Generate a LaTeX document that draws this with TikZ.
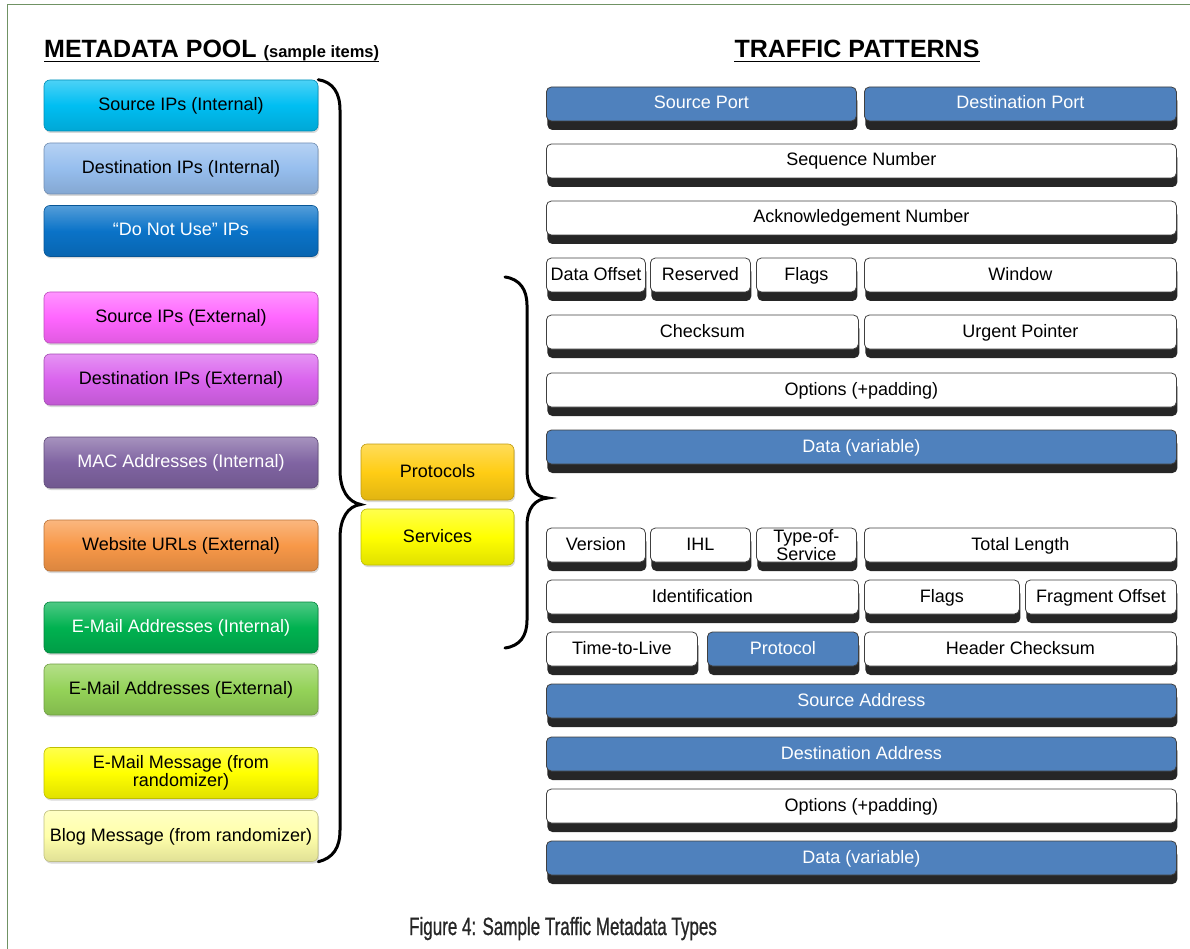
\documentclass[tikz,border=0pt]{standalone}
\usepackage{fontspec}
\setmainfont{Liberation Sans}
\newfontfamily\capfont[FakeStretch=0.68, FakeBold=0.8]{Liberation Sans}
\usetikzlibrary{calc, shadows}

\definecolor{fieldblue}{RGB}{79,129,189}
\definecolor{srcint}{RGB}{0,190,242}
\definecolor{dstint}{RGB}{150,190,238}
\definecolor{dnu}{RGB}{10,115,200}
\definecolor{srcext}{RGB}{255,102,255}
\definecolor{dstext}{RGB}{218,100,238}
\definecolor{macint}{RGB}{128,100,162}
\definecolor{urlext}{RGB}{248,152,72}
\definecolor{mailint}{RGB}{0,178,80}
\definecolor{mailext}{RGB}{148,210,88}
\definecolor{mailmsg}{RGB}{255,255,0}
\definecolor{blogmsg}{RGB}{255,255,170}
\definecolor{protoc}{RGB}{255,205,20}
\definecolor{servc}{RGB}{255,255,0}
\definecolor{framegreen}{RGB}{112,146,100}

\tikzset{
  pool/.style={draw=#1!75!black, line width=0.6, rounded corners=6,
    top color=#1!70!white, bottom color=#1!88!black, middle color=#1,
    drop shadow={shadow xshift=1pt, shadow yshift=-2pt, opacity=0.3},
    minimum width=274, minimum height=51, inner sep=2,
    text height=14, text depth=4,
    font=\fontsize{18}{15}\selectfont, align=center},
  fld/.style={draw=black!75, fill=white, line width=0.8, rounded corners=5,
    drop shadow={shadow xshift=1pt, shadow yshift=-9pt, opacity=1, fill=black!85},
    minimum width=#1, minimum height=34, inner sep=0, anchor=west,
    text height=14, text depth=4,
    font=\fontsize{18}{14}\selectfont, align=center},
  bfld/.style={fld=#1, fill=fieldblue, text=white},
  twolines/.style={text height=, text depth=},
  brace/.style={line width=3, line cap=round}
}

\begin{document}
\begin{tikzpicture}[x=1pt, y=-1pt]
      \useasboundingbox (0,0) rectangle (1190,949);

      % Рамка
      \draw[framegreen, line width=1] (7,949) -- (7,5) -- (1190,5);

      % Заголовки
      \node[anchor=base west, inner sep=0] (pooltitle) at (44,58)
        {\bfseries\fontsize{25}{25}\selectfont METADATA POOL \fontsize{16.5}{16}\selectfont(sample items)};
      \draw[line width=1.8] ([yshift=-3.5pt]pooltitle.base west) -- ([yshift=-3.5pt]pooltitle.base east);
      \node[anchor=base, inner sep=0] (traftitle) at (857,58)
        {\bfseries\fontsize{25}{25}\selectfont TRAFFIC PATTERNS};
      \draw[line width=1.8] ([yshift=-3.5pt]traftitle.base west) -- ([yshift=-3.5pt]traftitle.base east);

      % Пул метаданих
      \node[pool=srcint] (srcint) at (181,105.5) {Source IPs (Internal)};
      \node[pool=dstint] (dstint) at (181,168.5) {Destination IPs (Internal)};
      \node[pool=dnu, text=white] (dnu) at (181,231) {``Do Not Use'' IPs};
      \node[pool=srcext] (srcext) at (181,317.5) {Source IPs (External)};
      \node[pool=dstext] (dstext) at (181,379.5) {Destination IPs (External)};
      \node[pool=macint, text=white] (macint) at (181,462.5) {MAC Addresses (Internal)};
      \node[pool=urlext] (urlext) at (181,545.5) {Website URLs (External)};
      \node[pool=mailint, text=white] (mailint) at (181,627.5) {E-Mail Addresses (Internal)};
      \node[pool=mailext] (mailext) at (181,689.5) {E-Mail Addresses (External)};
      \node[pool=mailmsg, twolines] (mailmsg) at (181,773) {E-Mail Message (from\\randomizer)};
      \node[pool=blogmsg] (blogmsg) at (181,836) {Blog Message (from randomizer)};

      % Протоколи та сервіси
      \node[pool=protoc, minimum width=153, minimum height=56] (proto) at (437.5,472) {Protocols};
      \node[pool=servc, minimum width=153, minimum height=56] (serv) at (437.5,537) {Services};

      % Ліва дужка
      \coordinate (lbtip) at ($(proto.south west)!0.5!(serv.north west)$);
      \draw[brace] (srcint.north east) .. controls (333,82) and (340,93) .. (340,110)
        -- (340,470) .. controls (340,490) and (348,502) .. (lbtip)
        .. controls (348,506) and (340,518) .. (340,538)
        -- (340,830) .. controls (340,848) and (333,858) .. (blogmsg.south east);

      % Права дужка
      \coordinate (rbtip) at (548,498);
      \draw[brace] (505,277) .. controls (520,279) and (527,290) .. (527,305)
        -- (527,470) .. controls (527,488) and (535,497) .. (rbtip)
        .. controls (535,499) and (527,508) .. (527,526)
        -- (527,620) .. controls (527,636) and (520,646) .. (505,648);

      % Заголовок TCP
      \node[bfld=310] (sport) at (546,104) {Source Port};
      \node[bfld=312] (dport) at (864,104) {Destination Port};
      \node[fld=630] (seqnum) at (546,161) {Sequence Number};
      \node[fld=630] (acknum) at (546,218) {Acknowledgement Number};
      \node[fld=99] (doff) at (546,275) {Data Offset};
      \node[fld=100] (resv) at (650,275) {Reserved};
      \node[fld=100] (tcpflags) at (756,275) {Flags};
      \node[fld=312] (window) at (864,275) {Window};
      \node[fld=312] (tcpcks) at (546,332) {Checksum};
      \node[fld=312] (urgptr) at (864,332) {Urgent Pointer};
      \node[fld=630] (tcpopt) at (546,390) {Options (+padding)};
      \node[bfld=630] (tcpdata) at (546,447) {Data (variable)};

      % Заголовок IP
      \node[fld=99] (version) at (546,545) {Version};
      \node[fld=100] (ihl) at (650,545) {IHL};
      \node[fld=100, twolines] (tos) at (756,545) {Type-of-\\Service};
      \node[fld=312] (totlen) at (864,545) {Total Length};
      \node[fld=312] (ident) at (546,597) {Identification};
      \node[fld=155] (ipflags) at (864,597) {Flags};
      \node[fld=151] (fragoff) at (1025,597) {Fragment Offset};
      \node[fld=151] (ttl) at (546,649) {Time-to-Live};
      \node[bfld=151] (protofld) at (707,649) {Protocol};
      \node[fld=312] (hdrcks) at (864,649) {Header Checksum};
      \node[bfld=630] (srcaddr) at (546,701) {Source Address};
      \node[bfld=630] (dstaddr) at (546,754) {Destination Address};
      \node[fld=630] (ipopt) at (546,806) {Options (+padding)};
      \node[bfld=630] (ipdata) at (546,858) {Data (variable)};

      % Підпис
      \node[anchor=base, inner sep=0, text=black!85] (caption) at (563,935)
        {\capfont\fontsize{25}{25}\selectfont Figure 4: Sample Traffic Metadata Types};
    \end{tikzpicture}
\end{document}
